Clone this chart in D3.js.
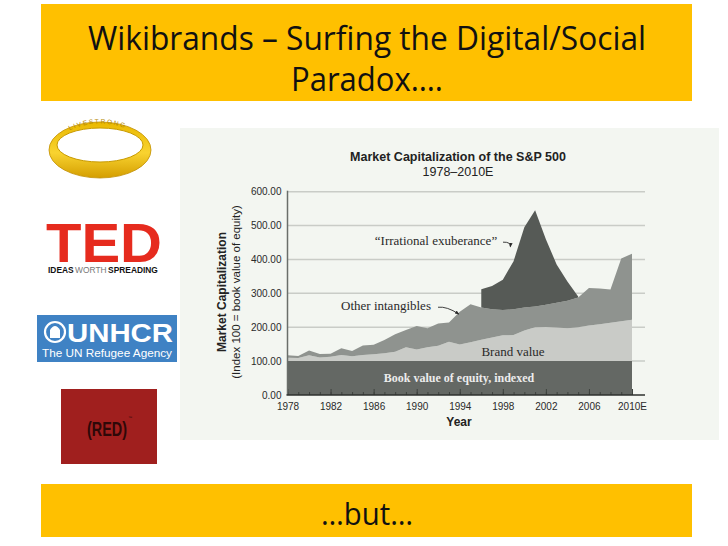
<!DOCTYPE html>
<html>
<head>
<meta charset="utf-8">
<script src="https://cdn.jsdelivr.net/npm/d3@7"></script>
<style>
  html, body { margin: 0; padding: 0; background: #ffffff; }
  svg { display: block; }
</style>
</head>
<body>
<svg id="slide" width="728" height="546"></svg>
<script>
// ---------------- DATA ----------------
const years = [1978,1979,1980,1981,1982,1983,1984,1985,1986,1987,1988,1989,1990,1991,1992,1993,1994,
               1995,1996,1997,1998,1999,2000,2001,2002,2003,2004,2005,2006,2007,2008,2009,2010];
// layer thickness (index points)
const bookValue  = [100,100,100,100,100,100,100,100,100,100,100,100,100,100,100,100,100,
                    100,100,100,100,100,100,100,100,100,100,100,100,100,100,100,100];
const brandValue = [10,9,17,11,13,18,14,18,20,23,28,41,34,41,45,57,49,
                    56,63,70,76,77,90,100,101,99,97,100,105,109,113,118,122];
const otherIntangibles = [7,6,14,10,9,20,16,28,28,39,51,51,70,56,66,57,97,
                    112,95,83,75,76,68,61,65,73,81,88,111,105,98,185,195];
const irrational = [null,null,null,null,null,null,null,null,null,null,null,null,null,null,null,null,null,
                    null,54,69,89,142,237,284,194,113,57,3,null,null,null,null,null];

const yTicks = [0,100,200,300,400,500,600];
const xLabelYears = [1978,1982,1986,1990,1994,1998,2002,2006,2010];
const xLabelText  = ["1978","1982","1986","1990","1994","1998","2002","2006","2010E"];

const slideTitle = ["Wikibrands \u2013 Surfing the Digital/Social", "Paradox\u2026."];
const slideFooter = "\u2026but\u2026";
const chartTitle = "Market Capitalization of the S&P 500";
const chartSubtitle = "1978\u20132010E";
const yTitle = ["Market Capitalization", "(Index 100 = book value of equity)"];
const xTitle = "Year";

// ---------------- SLIDE ----------------
const svg = d3.select("#slide");
const defs = svg.append("defs");
svg.append("rect").attr("width",728).attr("height",546).attr("fill","#ffffff");

// top banner
svg.append("rect").attr("x",41).attr("y",4).attr("width",651).attr("height",97).attr("fill","#ffc000");
svg.append("text").attr("x",367).attr("y",50).attr("text-anchor","middle")
  .attr("font-family","'Open Sans', 'Noto Sans', sans-serif").attr("font-size",33)
  .attr("textLength",558).attr("lengthAdjust","spacingAndGlyphs")
  .attr("fill","#111").text(slideTitle[0]);
svg.append("text").attr("x",367).attr("y",91).attr("text-anchor","middle")
  .attr("font-family","'Open Sans', 'Noto Sans', sans-serif").attr("font-size",33)
  .attr("textLength",152).attr("lengthAdjust","spacingAndGlyphs")
  .attr("fill","#111").text(slideTitle[1]);

// bottom banner
svg.append("rect").attr("x",41).attr("y",484).attr("width",651).attr("height",53).attr("fill","#ffc000");
svg.append("text").attr("x",367).attr("y",525).attr("text-anchor","middle")
  .attr("font-family","'Open Sans', 'Noto Sans', sans-serif").attr("font-size",31)
  .attr("textLength",92).attr("lengthAdjust","spacingAndGlyphs")
  .attr("fill","#111").text(slideFooter);

// ---------------- LOGOS ----------------
// Livestrong band
const lg = svg.append("g");
const ringGrad = defs.append("linearGradient").attr("id","ring").attr("x1",0).attr("y1",0).attr("x2",0).attr("y2",1);
ringGrad.append("stop").attr("offset","0%").attr("stop-color","#e9b800");
ringGrad.append("stop").attr("offset","55%").attr("stop-color","#f9d330");
ringGrad.append("stop").attr("offset","100%").attr("stop-color","#d49e00");
lg.append("ellipse").attr("cx",100).attr("cy",150).attr("rx",51).attr("ry",28).attr("fill","url(#ring)").attr("stroke","#c08e00").attr("stroke-width",0.8);
lg.append("ellipse").attr("cx",100).attr("cy",145).attr("rx",43).attr("ry",17).attr("fill","#ffffff").attr("stroke","#c89a00").attr("stroke-width",1);
lg.append("path").attr("id","lsarc").attr("d","M64,133 Q100,114 136,133").attr("fill","none");
lg.append("text").attr("font-family","Liberation Sans, Arial, sans-serif").attr("font-size",6.5).attr("fill","#b58a00")
  .attr("letter-spacing",1.6)
  .append("textPath").attr("href","#lsarc").attr("startOffset","8%").text("LIVESTRONG");

// TED
svg.append("text").attr("x",46).attr("y",262).attr("font-family","Liberation Sans, Arial, sans-serif")
  .attr("font-weight","bold").attr("font-size",56).attr("fill","#e62b1e")
  .attr("textLength",116).attr("lengthAdjust","spacingAndGlyphs").text("TED");
{
  const parts = [["IDEAS","bold","#111"],["WORTH","normal","#777"],["SPREADING","bold","#111"]];
  let cx = 48;
  parts.forEach(p => {
    const t = svg.append("text").attr("x",cx).attr("y",273).attr("font-family","Liberation Sans, Arial, sans-serif")
      .attr("font-size",8.4).attr("font-weight",p[1]).attr("fill",p[2]).text(p[0]);
    cx += t.node().getComputedTextLength() + 1.5;
  });
}

// UNHCR
svg.append("rect").attr("x",37).attr("y",315).attr("width",140).attr("height",47).attr("fill","#3f82c4");
svg.append("circle").attr("cx",55).attr("cy",332).attr("r",10).attr("fill","none").attr("stroke","#fff").attr("stroke-width",2.2);
svg.append("path").attr("d","M50,338 L50,330 Q55,322 60,330 L60,338 Z").attr("fill","#fff");
svg.append("text").attr("x",67).attr("y",342).attr("font-family","Liberation Sans, Arial, sans-serif")
  .attr("font-weight","bold").attr("font-size",25).attr("fill","#fff")
  .attr("textLength",106).attr("lengthAdjust","spacingAndGlyphs").text("UNHCR");
svg.append("text").attr("x",42).attr("y",357).attr("font-family","Liberation Sans, Arial, sans-serif")
  .attr("font-size",11.5).attr("fill","#fff")
  .attr("textLength",130).attr("lengthAdjust","spacingAndGlyphs").text("The UN Refugee Agency");

// (RED)
svg.append("rect").attr("x",61).attr("y",389).attr("width",96).attr("height",75).attr("fill","#a01f1e");
svg.append("text").attr("x",107).attr("y",436).attr("text-anchor","middle").attr("font-family","'Liberation Sans Narrow', 'Liberation Sans', Arial, sans-serif")
  .attr("font-weight","bold").attr("font-size",21).attr("fill","#2e0808")
  .attr("textLength",40).attr("lengthAdjust","spacingAndGlyphs").text("(RED)");
svg.append("text").attr("x",128).attr("y",419).attr("font-family","Liberation Sans, Arial, sans-serif")
  .attr("font-size",4).attr("fill","#2e0808").text("\u2122");

// ---------------- CHART ----------------
svg.append("rect").attr("x",180).attr("y",128).attr("width",539).attr("height",312).attr("fill","#f3f6f1");

const x = d3.scaleLinear().domain([1978, 2010]).range([287.5, 632]);
const y = d3.scaleLinear().domain([0, 600]).range([395, 191.7]);
const gridRight = 645;

// gridlines
svg.append("g").selectAll("line").data(yTicks.filter(d => d > 0)).join("line")
  .attr("x1", x(1978)).attr("x2", gridRight)
  .attr("y1", d => y(d)).attr("y2", d => y(d))
  .attr("stroke","#c9ccc7").attr("stroke-width",1.5);

// stacked layers
const table = years.map((yr,i) => ({
  year: yr, book: bookValue[i], brand: brandValue[i], other: otherIntangibles[i],
  irr: irrational[i] == null ? 0 : irrational[i], irrDefined: irrational[i] != null
}));
const keys = ["book","brand","other","irr"];
const colors = {book:"#646864", brand:"#c9cbc7", other:"#8f938f", irr:"#565a56"};
const series = d3.stack().keys(keys)(table);

const area = d3.area()
  .x(d => x(d.data.year))
  .y0(d => y(d[0]))
  .y1(d => y(d[1]));

svg.append("g").selectAll("path").data(series).join("path")
  .attr("d", s => s.key === "irr" ? area.defined(d => d.data.irrDefined)(s) : area.defined(() => true)(s))
  .attr("fill", s => colors[s.key]);

// axes
const fontSans = "Liberation Sans, Arial, Helvetica, sans-serif";
const yAxis = d3.axisLeft(y).tickValues(yTicks).tickFormat(d3.format(".2f")).tickSize(0).tickPadding(6);
const gy = svg.append("g").attr("transform", `translate(${x(1978)},0)`).call(yAxis);
gy.select(".domain").remove();
gy.selectAll("text").attr("font-family", fontSans).attr("font-size", 10).attr("fill","#2a2a2a");

// minor ticks (every year, inside)
const minor = d3.axisBottom(x).tickValues(years).tickSize(-3).tickFormat("");
const gm = svg.append("g").attr("transform", `translate(0,${y(0)})`).call(minor);
gm.select(".domain").remove();
gm.selectAll("line").attr("stroke","#3e423e").attr("stroke-width",1);

const major = d3.axisBottom(x).tickValues(xLabelYears).tickSize(-6).tickPadding(8)
  .tickFormat((d,i) => xLabelText[i]);
const gx = svg.append("g").attr("transform", `translate(0,${y(0)})`).call(major);
gx.select(".domain").remove();
gx.selectAll("line").attr("stroke","#3e423e").attr("stroke-width",1);
gx.selectAll("text").attr("font-family", fontSans).attr("font-size", 10).attr("fill","#2a2a2a");

// axis lines
svg.append("line").attr("x1", x(1978)).attr("x2", x(1978)).attr("y1", y(600)-1).attr("y2", y(0))
  .attr("stroke","#6a6e6a").attr("stroke-width",1.5);
svg.append("line").attr("x1", x(1978)-1).attr("x2", gridRight).attr("y1", y(0)).attr("y2", y(0))
  .attr("stroke","#2e302e").attr("stroke-width",1.5);

// titles
svg.append("text").attr("x",458).attr("y",161).attr("text-anchor","middle")
  .attr("font-family",fontSans).attr("font-weight","bold").attr("font-size",12.5).attr("fill","#222").text(chartTitle);
svg.append("text").attr("x",458).attr("y",176).attr("text-anchor","middle")
  .attr("font-family",fontSans).attr("font-size",12.5).attr("fill","#222").text(chartSubtitle);
svg.append("text").attr("x",459).attr("y",426).attr("text-anchor","middle")
  .attr("font-family",fontSans).attr("font-weight","bold").attr("font-size",12).attr("fill","#222").text(xTitle);
svg.append("text").attr("transform","translate(226,292) rotate(-90)").attr("text-anchor","middle")
  .attr("font-family",fontSans).attr("font-weight","bold").attr("font-size",12).attr("fill","#222").text(yTitle[0]);
svg.append("text").attr("transform","translate(240,292) rotate(-90)").attr("text-anchor","middle")
  .attr("font-family",fontSans).attr("font-size",11.5).attr("fill","#222").text(yTitle[1]);

// in-chart annotations (serif)
const fontSerif = "Liberation Serif, 'Times New Roman', serif";
svg.append("text").attr("x",459).attr("y",y(50)+4).attr("text-anchor","middle")
  .attr("font-family",fontSerif).attr("font-weight","bold").attr("font-size",12).attr("fill","#ececec")
  .text("Book value of equity, indexed");
svg.append("text").attr("x",513).attr("y",y(128)+4).attr("text-anchor","middle")
  .attr("font-family",fontSerif).attr("font-size",13).attr("fill","#2a2a2a").text("Brand value");
svg.append("text").attr("x",386).attr("y",y(262)+4).attr("text-anchor","middle")
  .attr("font-family",fontSerif).attr("font-size",13).attr("fill","#2a2a2a").text("Other intangibles");
svg.append("text").attr("x",436).attr("y",y(454)+4).attr("text-anchor","middle")
  .attr("font-family",fontSerif).attr("font-size",13).attr("fill","#2a2a2a").text("\u201CIrrational exuberance\u201D");

// arrows
defs.append("marker").attr("id","ah").attr("viewBox","0 0 10 10").attr("refX",8).attr("refY",5)
  .attr("markerWidth",5).attr("markerHeight",5).attr("orient","auto")
  .append("path").attr("d","M0,1 L10,5 L0,9 Z").attr("fill","#2a2a2a");
function arrow(x0,y0,cx,cy,x1,y1){
  svg.append("path").attr("d",`M${x0},${y0} Q${cx},${cy} ${x1},${y1}`)
    .attr("fill","none").attr("stroke","#2a2a2a").attr("stroke-width",0.9).attr("marker-end","url(#ah)");
}
arrow(438, y(262)+1, 447, y(262), x(1993.9), y(239));
arrow(503, y(454)+1, 511, y(452), x(1998.7), y(438));
</script>
</body>
</html>
